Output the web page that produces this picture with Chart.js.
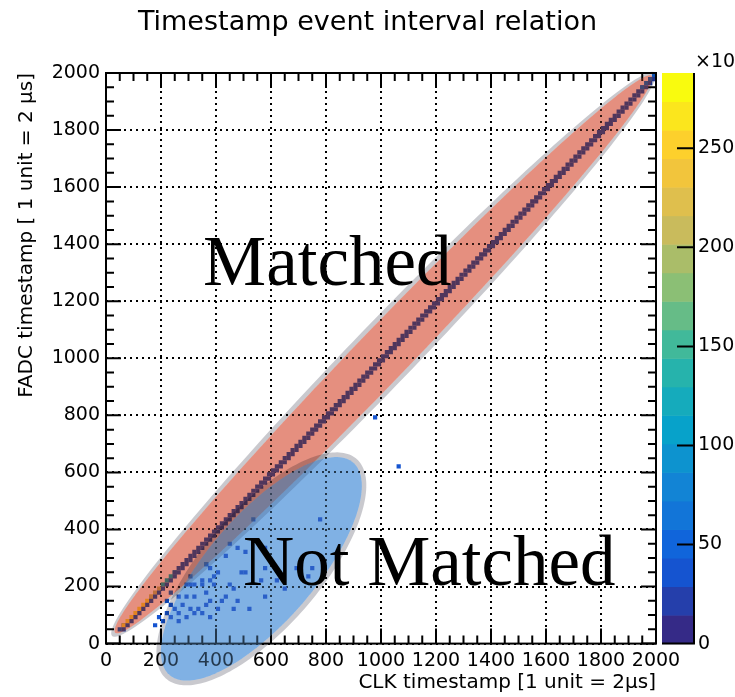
<!DOCTYPE html>
<html>
<head>
<meta charset="utf-8">
<script src="https://cdn.jsdelivr.net/npm/chart.js@4.4.1/dist/chart.umd.min.js"></script>
<style>
  html, body { margin: 0; padding: 0; background: #fff; }
</style>
</head>
<body>
<canvas id="chart" width="735" height="697"></canvas>
<script>
const title = 'Timestamp event interval relation';
const xTitle = 'CLK timestamp [1 unit = 2\u03bcs]';
const yTitle = 'FADC timestamp [ 1 unit = 2 \u03bcs]';

const binWidth = 2000 / 140;
const axisMax = 2000;
const zMax = 288;                       // counts in units of 10^3
const zTicks = [0, 50, 100, 150, 200, 250];

// runs of diagonal bins (CLK == FADC): [from, to, counts]
const diagRuns = [
  [43, 60, 40], [60, 160, 262], [160, 205, 215], [205, 250, 120],
  [250, 1955, 22], [1955, 1990, 45]
];
// bins just right of the diagonal
const sideRuns = [[43, 1975, 18]];

// bins away from the diagonal: [clk, fadc, counts]
const unmatched = [
  [215, 144, 35], [222, 109, 40], [207, 77, 30], [189, 91, 35], [178, 67, 30],
  [240, 95, 40], [258, 84, 35], [295, 91, 40], [316, 102, 35],
  [233, 130, 40], [251, 126, 35], [276, 130, 40], [305, 118, 35], [331, 126, 40],
  [353, 110, 35], [385, 95, 40], [270, 110, 35], [360, 140, 40], [400, 120, 35],
  [262, 165, 35], [298, 165, 40], [316, 165, 35], [367, 179, 40], [378, 154, 35],
  [415, 144, 35], [458, 126, 40], [480, 144, 35], [524, 119, 35], [440, 165, 40],
  [287, 200, 40], [305, 200, 35], [325, 200, 40], [349, 200, 35], [396, 200, 35],
  [444, 207, 35], [345, 224, 40], [385, 224, 35], [367, 273, 35], [378, 266, 40],
  [403, 256, 35], [433, 301, 35], [444, 347, 35], [476, 329, 40], [502, 315, 35],
  [585, 340, 35], [578, 259, 35], [513, 249, 40], [567, 228, 35], [687, 266, 35],
  [753, 266, 35], [654, 186, 35], [585, 165, 35], [371, 277, 40], [393, 231, 35],
  [498, 249, 35], [622, 224, 35], [731, 235, 35], [535, 438, 35], [778, 438, 35],
  [300, 230, 35], [240, 180, 40], [460, 190, 35], [985, 795, 40], [1066, 615, 40]
];

// highlighted regions, in timestamp units
const zones = [
  { cx: 1009, cy: 1014, angle: 45, a: 1380, b: 94, ring: 16, tint: [225, 125, 105], alpha: 0.75, wash: 'rgba(220,100,80,0.25)' },
  { cx: 565, cy: 262, angle: 47.7, a: 500, b: 192, ring: 18, tint: [95, 155, 222], alpha: 0.7, wash: 'rgba(100,160,222,0.35)' }
];
const zoneLabels = [
  { text: 'Matched', x: 353, y: 1257 },
  { text: 'Not Matched', x: 498, y: 207 }
];

// ROOT kBird palette stops
const bird = [
  [0.2082, 0.1664, 0.5293], [0.0592, 0.3599, 0.8684], [0.0780, 0.5041, 0.8385],
  [0.0232, 0.6419, 0.7914], [0.1802, 0.7178, 0.6425], [0.5301, 0.7492, 0.4662],
  [0.8186, 0.7328, 0.3499], [0.9956, 0.7862, 0.1968], [0.9764, 0.9832, 0.0539]
];
const nBands = 20;

function birdColor(t) {
  const s = t * (bird.length - 1);
  const i = Math.min(bird.length - 2, Math.floor(s));
  const f = s - i;
  const c = bird[i].map((v, k) => Math.round(255 * (v + (bird[i + 1][k] - v) * f)));
  return `rgb(${c[0]},${c[1]},${c[2]})`;
}
function bandColor(v) {
  const k = Math.max(0, Math.min(nBands - 1, Math.floor(v / zMax * nBands)));
  return birdColor(k / (nBands - 1));
}
const edge = v => Math.floor(v / binWidth) * binWidth;
const snap = v => edge(v) + binWidth / 2;

const cells = [];
diagRuns.forEach(([from, to, v]) => {
  for (let x = edge(from); x < to; x += binWidth) cells.push({ x: x + binWidth / 2, y: x + binWidth / 2, v });
});
sideRuns.forEach(([from, to, v]) => {
  for (let x = edge(from); x < to; x += binWidth) cells.push({ x: x + binWidth * 1.5, y: x + binWidth / 2, v });
});
unmatched.forEach(([cx, fy, v]) => cells.push({ x: snap(cx), y: snap(fy), v }));

const tickFont = { family: 'DejaVu Sans', size: 19 };
const titleFont = { family: 'DejaVu Sans', size: 20 };
const plain = v => String(v);

function ellipsePath(ctx, sx, sy, z, a, b) {
  const ang = z.angle * Math.PI / 180;
  const ux = Math.cos(ang), uy = Math.sin(ang);
  for (let i = 0; i <= 200; i++) {
    const t = i / 200 * 2 * Math.PI;
    const dx = a * Math.cos(t) * ux - b * Math.sin(t) * uy;
    const dy = a * Math.cos(t) * uy + b * Math.sin(t) * ux;
    const px = sx.getPixelForValue(z.cx + dx), py = sy.getPixelForValue(z.cy + dy);
    if (i) ctx.lineTo(px, py); else ctx.moveTo(px, py);
  }
  ctx.closePath();
}

// frame with inward major/minor ticks on all four sides
const frame = {
  id: 'frame',
  afterDatasetsDraw(chart) {
    const { ctx, chartArea: a, scales: { x, y } } = chart;
    ctx.save();
    ctx.strokeStyle = '#000';
    ctx.lineWidth = 2;
    ctx.beginPath();
    for (let v = 0; v <= axisMax; v += 50) {
      const len = v % 200 === 0 ? 15 : 8;
      const px = x.getPixelForValue(v), py = y.getPixelForValue(v);
      ctx.moveTo(px, a.bottom); ctx.lineTo(px, a.bottom - len);
      ctx.moveTo(px, a.top); ctx.lineTo(px, a.top + len);
      ctx.moveTo(a.left, py); ctx.lineTo(a.left + len, py);
      ctx.moveTo(a.right, py); ctx.lineTo(a.right - len, py);
    }
    ctx.stroke();
    ctx.strokeRect(a.left, a.top, a.right - a.left, a.bottom - a.top);
    ctx.restore();
  }
};

// colour palette next to the plot, on the z scale
const palette = {
  id: 'palette',
  afterDraw(chart) {
    const { ctx, chartArea: a, scales: { z } } = chart;
    const x0 = a.right + 6, x1 = a.right + 38;
    ctx.save();
    for (let k = 0; k < nBands; k++) {
      const top = z.getPixelForValue((k + 1) * zMax / nBands);
      const bot = z.getPixelForValue(k * zMax / nBands);
      ctx.fillStyle = birdColor(k / (nBands - 1));
      ctx.fillRect(x0, top, x1 - x0, bot - top + 0.5);
    }
    ctx.strokeStyle = '#000';
    ctx.lineWidth = 2;
    ctx.beginPath();
    ctx.moveTo(x1, z.top); ctx.lineTo(x1, z.bottom); ctx.lineTo(x0, z.bottom);
    zTicks.forEach(v => {
      const py = z.getPixelForValue(v);
      ctx.moveTo(x1, py); ctx.lineTo(x1 - 17, py);
    });
    ctx.stroke();
    ctx.fillStyle = '#000';
    ctx.font = '19px "DejaVu Sans"';
    ctx.textBaseline = 'middle';
    ctx.fillText('\u00d710', x1 + 1, z.top - 11);
    const w = ctx.measureText('\u00d710').width;
    ctx.font = '13px "DejaVu Sans"';
    ctx.fillText('3', x1 + 2 + w, z.top - 18);
    ctx.restore();
  }
};

// shaded regions and their labels
const regions = {
  id: 'regions',
  afterDraw(chart) {
    const { ctx, scales: { x, y } } = chart;
    ctx.save();
    zones.forEach(z => {
      ctx.globalCompositeOperation = 'multiply';
      ctx.beginPath();
      ellipsePath(ctx, x, y, z, z.a + z.ring, z.b + z.ring);
      ellipsePath(ctx, x, y, z, z.a, z.b);
      ctx.fillStyle = 'rgba(198,198,203,0.95)';
      ctx.fill('evenodd');
      ctx.beginPath();
      ellipsePath(ctx, x, y, z, z.a, z.b);
      ctx.fillStyle = `rgba(${z.tint.join(',')},${z.alpha})`;
      ctx.fill();
      ctx.globalCompositeOperation = 'source-over';
      ctx.fillStyle = z.wash;
      ctx.fill();
    });
    ctx.fillStyle = '#000';
    ctx.font = '71px "Liberation Serif"';
    ctx.textBaseline = 'alphabetic';
    zoneLabels.forEach(l => ctx.fillText(l.text, x.getPixelForValue(l.x), y.getPixelForValue(l.y)));
    ctx.restore();
  }
};

new Chart(document.getElementById('chart'), {
  type: 'scatter',
  data: {
    datasets: [{
      data: cells,
      pointStyle: 'rect',
      pointRadius: c => {
        const sx = c.chart.scales.x;
        return (sx.getPixelForValue(binWidth) - sx.getPixelForValue(0)) / Math.SQRT2 + 0.2;
      },
      backgroundColor: c => bandColor(c.raw ? c.raw.v : 0),
      borderWidth: 0
    }]
  },
  options: {
    responsive: false,
    animation: false,
    events: [],
    devicePixelRatio: 1,
    layout: { padding: 0 },
    plugins: {
      legend: { display: false },
      tooltip: { enabled: false },
      title: {
        display: true, text: title, color: '#000',
        font: { family: 'DejaVu Sans', size: 27, weight: 'normal' },
        padding: { top: 7, bottom: 33.6 }
      }
    },
    scales: {
      x: {
        type: 'linear', position: 'bottom', min: 0, max: axisMax,
        ticks: { stepSize: 200, autoSkip: false, maxRotation: 0, padding: 6, color: '#000', font: tickFont, callback: plain },
        grid: { color: '#000', lineWidth: 2, drawTicks: false },
        border: { display: false, dash: [2, 4] },
        title: { display: true, text: xTitle, align: 'end', color: '#000', font: titleFont, padding: { top: 0, bottom: 2 } },
        afterFit: s => { s.height = 53; }
      },
      y: {
        type: 'linear', position: 'left', min: 0, max: axisMax,
        ticks: { stepSize: 200, autoSkip: false, padding: 6, color: '#000', font: tickFont, callback: plain },
        grid: { color: '#000', lineWidth: 2, drawTicks: false },
        border: { display: false, dash: [2, 4] },
        title: { display: true, text: yTitle, align: 'end', color: '#000', font: titleFont, padding: { top: 15, bottom: 0 } },
        afterFit: s => { s.width = 106; }
      },
      z: {
        type: 'linear', position: 'right', min: 0, max: zMax,
        ticks: { stepSize: 50, includeBounds: false, padding: 42, color: '#000', font: tickFont, callback: plain },
        grid: { display: false, drawTicks: false },
        border: { display: false },
        afterFit: s => { s.width = 79; }
      }
    }
  },
  plugins: [frame, palette, regions]
});
</script>
</body>
</html>
